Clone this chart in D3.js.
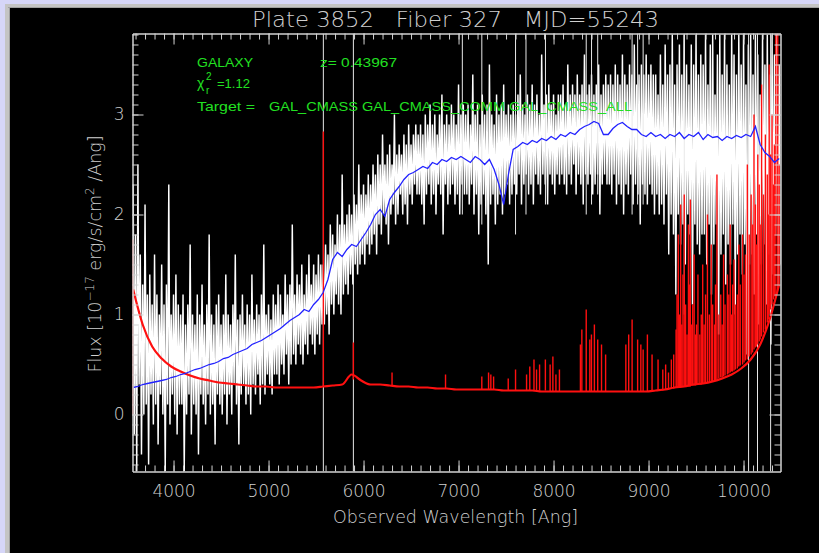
<!DOCTYPE html>
<html><head><meta charset="utf-8">
<script src="https://cdn.jsdelivr.net/npm/d3@7"></script>
<style>html,body{margin:0;padding:0;background:#000;}svg{display:block}</style>
</head><body>
<svg id="chart" width="819" height="553"></svg>
<script>
// ---------------- data ----------------
const titleText = "Plate 3852   Fiber 327   MJD=55243";
const xLabel = "Observed Wavelength [Ang]";
const xTicks = [4000, 5000, 6000, 7000, 8000, 9000, 10000];
const yTicks = [0, 1, 2, 3];
const xDomain = [3568, 10389];
const yDomain = [-0.57, 3.81];

// observed flux: upper samples on a 25 A grid starting at 3575 A
const fluxHiStart = 3575, fluxStep = 25;
const fluxHi = [
 2.3,1.8,2.5,1.6,1.3,2.1,1.2,1.4,1.1,1.6,1.2,1.0,1.5,1.1,1.3,2.3,1.0,1.2,1.4,1.1,
 1.0,1.2,0.9,1.1,1.7,1.0,0.9,1.2,1.0,1.3,0.9,1.1,1.8,1.0,0.9,1.1,1.2,0.9,1.0,1.4,
 1.0,0.9,1.1,1.6,0.95,1.0,1.2,0.9,1.1,1.0,1.4,0.95,1.1,1.0,1.2,1.7,1.0,1.1,0.95,1.2,
 1.1,1.3,1.2,1.0,1.4,1.2,1.3,1.9,1.2,1.4,1.3,1.5,1.2,1.4,1.6,1.3,1.5,1.4,1.6,1.5,
 1.5,1.7,1.6,1.9,1.8,1.7,2.0,1.9,2.4,1.9,2.0,2.1,2.0,2.2,2.1,2.5,2.2,2.3,2.2,2.4,
 2.3,2.5,2.4,2.6,2.5,2.8,2.5,2.6,2.7,2.5,3.0,2.6,2.7,2.6,2.8,2.7,2.9,2.7,2.8,2.9,
 2.8,2.9,2.8,3.0,2.9,3.1,2.9,3.0,2.8,3.0,3.2,2.9,3.0,2.9,3.1,3.0,2.9,3.3,3.0,3.1,
 3.0,3.1,2.9,3.4,3.0,3.1,2.9,3.2,3.0,3.1,3.5,3.0,2.9,3.2,3.0,3.1,3.3,3.0,3.1,3.0,
 3.1,3.0,3.2,3.4,3.1,3.0,3.2,3.1,3.3,3.1,3.2,3.0,3.6,3.1,3.2,3.3,3.1,3.2,3.0,3.2,
 3.2,3.3,3.1,3.5,3.2,3.3,3.2,3.4,3.2,3.3,3.6,3.2,3.3,3.4,3.2,3.3,3.5,3.2,3.3,3.4,
 3.3,3.4,3.3,3.5,3.4,3.3,3.6,3.4,3.3,3.5,3.4,3.7,3.3,3.4,3.5,3.4,3.6,3.4,3.5,3.4,
 3.4,3.2,3.6,3.3,3.7,3.4,3.5,3.8,3.3,3.5,3.7,3.4,3.8,3.5,3.3,3.7,3.5,3.8,3.4,3.6,
 3.5,3.8,3.3,3.7,3.8,3.2,3.6,3.8,3.4,3.8,3.5,3.3,3.8,3.6,3.4,3.8,3.5,3.8,3.3,3.7,
 3.8,3.4,3.8,3.6,3.2,3.8,3.5,3.8,3.4,3.8,3.6,3.8,3.5
];
// observed flux: lower samples on the same grid shifted by 12.5 A
const fluxLoStart = 3587.5;
const fluxLo = [
 -0.2,-0.57,0.3,-0.4,0.0,0.1,-0.5,0.2,-0.1,0.1,-0.3,0.2,0.0,-0.57,0.1,-0.1,0.2,0.0,-0.2,0.1,
 0.1,-0.57,0.0,0.2,-0.2,0.1,0.0,-0.4,0.2,0.1,-0.1,0.2,0.0,0.1,-0.3,0.2,0.1,0.0,0.2,-0.1,
 0.2,0.0,0.3,0.1,-0.3,0.2,0.3,0.1,0.2,0.0,0.3,0.2,0.4,0.1,0.3,0.2,0.4,0.3,0.2,0.4,
 0.4,0.3,0.5,0.4,0.6,0.3,0.5,0.6,0.5,0.7,0.6,0.5,0.7,0.6,0.8,0.7,0.6,0.8,0.7,0.9,
 0.9,1.0,0.8,1.1,1.0,1.2,1.1,1.0,1.2,1.3,1.2,1.4,1.3,1.5,1.4,1.5,1.6,1.5,1.7,1.6,
 1.7,1.8,1.6,1.9,1.8,2.0,1.9,1.7,2.0,2.1,1.9,2.0,2.2,2.0,2.1,1.9,2.2,2.1,2.3,2.2,
 2.2,2.1,1.9,2.2,2.3,2.1,2.2,2.0,2.3,2.2,1.8,2.3,2.1,2.2,2.3,2.1,2.2,2.0,2.3,2.2,
 2.2,2.1,2.3,2.0,2.2,1.8,2.1,2.2,2.0,1.5,2.1,2.2,1.9,2.1,2.2,2.0,2.2,2.3,2.1,2.2,
 2.3,2.2,2.4,2.1,2.3,2.4,2.2,2.3,2.1,2.4,2.3,2.2,2.4,2.3,2.1,2.4,2.3,2.2,2.4,2.3,
 2.4,2.3,2.2,2.4,2.3,2.5,2.2,2.4,2.3,2.1,2.4,2.3,2.4,2.2,2.3,2.4,2.0,2.3,2.4,2.3,
 2.3,2.2,2.4,2.1,2.3,2.2,2.0,2.3,2.2,2.4,2.1,2.3,2.2,1.9,2.3,2.2,2.1,2.3,2.2,2.0,
 2.2,2.0,2.1,1.9,2.2,1.6,2.0,1.8,1.2,2.0,1.7,1.9,1.5,2.0,1.8,1.1,1.9,1.7,1.6,1.8,
 1.8,1.5,1.9,1.2,1.7,1.9,0.8,1.6,1.8,1.3,1.7,1.5,1.9,1.0,1.6,1.8,1.4,1.7,0.6,1.5,
 1.6,1.2,1.8,0.9,1.5,1.7,1.1,1.6,0.7,1.4,1.8,1.3,1.5
];
// sky-line residual spikes in the flux: [wavelength, low, high]
const fluxSpikes = [
 [5577,-0.57,3.81],[5893,-0.57,3.81],[7040,2.0,3.81],[7245,1.9,3.81],[7600,1.8,3.81],
 [7710,2.0,3.81],[7915,2.1,3.81],[8344,2.0,3.81],[8400,2.1,3.81],[8465,2.2,3.81],
 [8827,2.0,3.81],[8885,2.1,3.81],[8943,2.1,3.81],[9376,1.0,3.81],
 [10053,-0.57,3.81],[10147,-0.57,3.81],[10285,-0.57,3.81]
];

// best-fit model, 50 A grid
const modelStart = 3575, modelStep = 50;
const model = [
 0.27,0.28,0.30,0.31,0.32,0.33,0.34,0.35,0.37,0.38,
 0.40,0.41,0.43,0.45,0.46,0.48,0.50,0.51,0.53,0.56,
 0.57,0.60,0.62,0.64,0.66,0.70,0.72,0.74,0.77,0.80,
 0.83,0.86,0.90,0.94,0.97,1.00,1.05,1.03,1.10,1.15,
 1.22,1.35,1.55,1.62,1.58,1.65,1.70,1.68,1.75,1.82,
 1.90,2.00,2.05,1.98,2.15,2.22,2.28,2.35,2.40,2.42,
 2.45,2.48,2.46,2.52,2.50,2.55,2.53,2.57,2.55,2.58,
 2.55,2.52,2.58,2.55,2.50,2.55,2.45,2.30,2.10,2.40,
 2.65,2.68,2.72,2.70,2.74,2.72,2.76,2.74,2.78,2.75,
 2.80,2.78,2.82,2.80,2.85,2.88,2.90,2.93,2.91,2.80,
 2.80,2.86,2.90,2.92,2.88,2.85,2.85,2.80,2.78,2.82,
 2.78,2.80,2.76,2.80,2.78,2.82,2.76,2.80,2.78,2.82,
 2.75,2.80,2.77,2.78,2.74,2.78,2.76,2.79,2.77,2.80,
 2.78,2.88,2.70,2.62,2.58,2.52,2.56
];

// flux error, 100 A grid
const errStart = 3575, errStep = 100;
const errorBase = [
 1.25,0.90,0.68,0.56,0.48,0.43,0.39,0.36,0.34,0.32,
 0.31,0.30,0.29,0.28,0.28,0.27,0.27,0.27,0.27,0.27,
 0.28,0.29,0.30,0.40,0.34,0.30,0.30,0.29,0.28,0.28,
 0.27,0.27,0.26,0.26,0.25,0.25,0.25,0.25,0.25,0.24,
 0.24,0.24,0.24,0.23,0.23,0.23,0.23,0.23,0.23,0.23,
 0.23,0.23,0.23,0.23,0.23,0.24,0.25,0.27,0.28,0.30,
 0.31,0.33,0.36,0.40,0.46,0.55,0.70,0.95,1.30
];
// sky-line spikes in the error: [wavelength, base, peak]
const errorSpikes = [
 [3569,0,1.75],[5577,0.28,2.83],[5893,0.35,0.72],[6300,0.29,0.42],[6863,0.26,0.40],
 [7245,0.25,0.38],[7316,0.25,0.42],[7340,0.25,0.40],[7369,0.25,0.38],[7523,0.24,0.36],
 [7600,0.24,0.45],[7716,0.24,0.40],[7750,0.24,0.48],[7794,0.24,0.55],[7821,0.24,0.45],
 [7853,0.24,0.50],[7914,0.24,0.55],[7964,0.23,0.50],[7993,0.23,0.58],[8025,0.23,0.40],
 [8062,0.23,0.45],[8283,0.23,0.70],[8298,0.23,0.85],[8344,0.23,1.05],[8382,0.23,0.75],
 [8399,0.23,0.80],[8430,0.23,0.90],[8465,0.23,0.75],[8505,0.23,0.70],[8548,0.23,0.60],
 [8761,0.23,0.70],[8791,0.23,0.80],[8827,0.23,0.95],[8885,0.23,0.75],[8919,0.23,0.70],
 [8943,0.23,0.65],[8988,0.23,0.80],[9037,0.23,0.60],[9100,0.24,0.55],
 [9150,0.24,0.45],[9180,0.25,0.50],[9210,0.25,0.42],[9240,0.26,0.55],[9265,0.26,0.60],
 [9290,0.27,0.85],[9300,0.27,1.20],[9313,0.27,1.80],[9325,0.27,1.00],[9338,0.27,2.10],
 [9350,0.28,0.90],[9362,0.28,1.40],[9376,0.28,2.20],[9390,0.28,1.10],[9405,0.28,0.80],
 [9420,0.28,1.90],[9430,0.28,1.30],[9440,0.28,2.15],[9455,0.29,0.90],[9465,0.29,1.10],
 [9480,0.29,1.60],[9495,0.29,0.80],[9505,0.30,0.90],[9520,0.30,1.40],[9540,0.30,0.80],
 [9555,0.30,1.00],[9570,0.31,1.50],[9585,0.31,0.90],[9600,0.32,1.20],[9620,0.32,2.00],
 [9640,0.32,1.00],[9660,0.33,1.70],[9675,0.33,1.10],[9695,0.34,0.90],[9705,0.34,1.30],
 [9720,0.35,2.40],[9740,0.36,1.00],[9760,0.37,1.20],[9775,0.37,0.90],[9790,0.38,1.60],
 [9805,0.39,1.10],[9830,0.40,1.40],[9845,0.41,1.20],[9860,0.42,1.90],[9875,0.43,1.00],
 [9885,0.43,1.30],[9900,0.44,1.55],[9915,0.45,1.10],[9935,0.46,1.20],[9950,0.48,1.70],
 [9965,0.49,1.30],[9990,0.50,1.80],[10005,0.52,1.40],[10020,0.54,1.60],[10040,0.55,2.50],
 [10060,0.58,1.80],[10080,0.60,2.20],[10095,0.62,1.90],[10110,0.65,3.00],[10125,0.67,2.10],
 [10135,0.68,1.70],[10150,0.70,2.60],[10165,0.73,2.30],[10175,0.75,1.90],[10190,0.78,3.30],
 [10210,0.82,2.20],[10230,0.85,2.80],[10250,0.92,2.40],[10260,0.95,2.00],[10270,1.00,3.50],
 [10285,1.05,2.60],[10300,1.10,3.00],[10315,1.15,2.30],[10325,1.18,2.70],[10340,1.20,3.81],
 [10360,1.25,3.81],[10375,1.30,2.50]
];

// annotation text
const objClass = "GALAXY";
const redshiftText = "z= 0.43967";
const chi2Text = "=1.12";
const targetLabel = "Target =";
const targetText = "GAL_CMASS GAL_CMASS_COMM GAL_CMASS_ALL";

// ---------------- drawing ----------------
const svg = d3.select("#chart");
const W = 819, H = 553;
const m = {l: 132.5, r: 780.5, t: 33.5, b: 471.5};
const axisCol = "#d2d2d2";
const textCol = "#d0d0d0";
const green = "#22e022";
const thinFont = "'DejaVu Sans', 'Liberation Sans', sans-serif";

// window frame
svg.append("rect").attr("x",0).attr("y",0).attr("width",W).attr("height",H).attr("fill","#000");
svg.append("rect").attr("x",0).attr("y",0).attr("width",W).attr("height",4).attr("fill","#d6d6f8");
svg.append("rect").attr("x",0).attr("y",0).attr("width",5).attr("height",H).attr("fill","#d6d6f8");
svg.append("rect").attr("x",5).attr("y",4).attr("width",W-5).attr("height",4).attr("fill","#c4c4c4");
svg.append("rect").attr("x",5).attr("y",4).attr("width",5).attr("height",H-4).attr("fill","#c4c4c4");
svg.append("rect").attr("x",8).attr("y",7).attr("width",W-8).attr("height",1).attr("fill","#a0a0a0");
svg.append("rect").attr("x",9).attr("y",7).attr("width",1).attr("height",H-7).attr("fill","#a0a0a0");

const x = d3.scaleLinear().domain(xDomain).range([m.l, m.r]);
const y = d3.scaleLinear().domain(yDomain).range([m.b, m.t]);

svg.append("defs").append("clipPath").attr("id","plotclip")
  .append("rect").attr("x",m.l).attr("y",m.t).attr("width",m.r-m.l).attr("height",m.b-m.t);
const plot = svg.append("g").attr("clip-path","url(#plotclip)");

// flux line: both sample sets merged in wavelength order
const fluxData = fluxHi.map((v,i)=>({w: fluxHiStart + i*fluxStep, v}))
  .concat(fluxLo.map((v,i)=>({w: fluxLoStart + i*fluxStep, v})))
  .sort((a,b)=>a.w-b.w);
plot.append("path").datum(fluxData)
  .attr("d", d3.line().x(d=>x(d.w)).y(d=>y(d.v)))
  .attr("fill","none").attr("stroke","#ffffff").attr("stroke-width",1.45)
  .attr("stroke-linejoin","bevel");

// flux spikes
plot.selectAll("line.fs").data(fluxSpikes).enter().append("line")
  .attr("x1",d=>x(d[0])).attr("x2",d=>x(d[0]))
  .attr("y1",d=>y(d[1])).attr("y2",d=>y(d[2]))
  .attr("stroke","#e8e8e8").attr("stroke-width",1);

// error baseline
const errData = errorBase.map((v,i)=>({w: errStart + i*errStep, v}));
plot.append("path").datum(errData)
  .attr("d", d3.line().x(d=>x(d.w)).y(d=>y(d.v)).curve(d3.curveMonotoneX))
  .attr("fill","none").attr("stroke","#ff1010").attr("stroke-width",2.2);
// error spikes
plot.selectAll("line.es").data(errorSpikes).enter().append("line")
  .attr("x1",d=>x(d[0])).attr("x2",d=>x(d[0]))
  .attr("y1",d=>y(d[1])).attr("y2",d=>y(d[2]))
  .attr("stroke","#ff1010").attr("stroke-width",1.4);

// model
const modelData = model.map((v,i)=>({w: modelStart + i*modelStep, v}));
plot.append("path").datum(modelData)
  .attr("d", d3.line().x(d=>x(d.w)).y(d=>y(d.v)))
  .attr("fill","none").attr("stroke","#2222ff").attr("stroke-width",1.3);

// axes
const xMinor = d3.range(3600, 10390, 100);
const yMinor = d3.range(-0.5, 3.81, 0.1).map(v=>+v.toFixed(2));
function styleAxis(g){
  g.selectAll("path.domain").attr("stroke",axisCol).attr("stroke-width",1);
  g.selectAll(".tick line").attr("stroke",axisCol).attr("stroke-width",1);
  g.selectAll(".tick text").attr("fill",textCol).attr("font-family",thinFont)
    .attr("font-size",17).attr("font-weight",200);
}
function addAxis(gen, tr){
  const g = svg.append("g").attr("transform",tr).call(gen);
  styleAxis(g); return g;
}
addAxis(d3.axisBottom(x).tickValues(xMinor).tickSize(-6).tickSizeOuter(0).tickFormat(""), `translate(0,${m.b})`);
addAxis(d3.axisBottom(x).tickValues(xTicks).tickSize(-11).tickSizeOuter(0).tickPadding(13).tickFormat(d3.format("d")), `translate(0,${m.b})`);
addAxis(d3.axisTop(x).tickValues(xMinor).tickSize(-6).tickSizeOuter(0).tickFormat(""), `translate(0,${m.t})`);
addAxis(d3.axisTop(x).tickValues(xTicks).tickSize(-11).tickSizeOuter(0).tickFormat(""), `translate(0,${m.t})`);
addAxis(d3.axisLeft(y).tickValues(yMinor).tickSize(-6).tickSizeOuter(0).tickFormat(""), `translate(${m.l},0)`);
addAxis(d3.axisLeft(y).tickValues(yTicks).tickSize(-11).tickSizeOuter(0).tickPadding(8).tickFormat(d3.format("d")), `translate(${m.l},0)`);
addAxis(d3.axisRight(y).tickValues(yMinor).tickSize(-6).tickSizeOuter(0).tickFormat(""), `translate(${m.r},0)`);
addAxis(d3.axisRight(y).tickValues(yTicks).tickSize(-11).tickSizeOuter(0).tickFormat(""), `translate(${m.r},0)`);

// title
svg.append("text").attr("x",455.5).attr("y",27).attr("text-anchor","middle")
  .attr("fill",textCol).attr("font-family",thinFont).attr("font-weight",200).attr("font-size",22)
  .attr("textLength",407).attr("lengthAdjust","spacingAndGlyphs")
  .style("white-space","pre").text(titleText);

// x label
svg.append("text").attr("x",455.5).attr("y",523).attr("text-anchor","middle")
  .attr("fill",textCol).attr("font-family",thinFont).attr("font-weight",200).attr("font-size",17.5)
  .attr("textLength",245).attr("lengthAdjust","spacingAndGlyphs")
  .text(xLabel);

// y label
const yl = svg.append("text").attr("transform","translate(101,254) rotate(-90)")
  .attr("text-anchor","middle").attr("fill",textCol).attr("font-family",thinFont)
  .attr("font-weight",200).attr("font-size",17.5);
yl.append("tspan").text("Flux [10");
yl.append("tspan").attr("dy",-7).attr("font-size",12).text("\u221217");
yl.append("tspan").attr("dy",7).text(" erg/s/cm");
yl.append("tspan").attr("dy",-7).attr("font-size",12).text("2");
yl.append("tspan").attr("dy",7).text(" /Ang]");

// annotations
const ann = svg.append("g").attr("fill",green).attr("font-family","'Liberation Sans', Arial, sans-serif").attr("font-size",13);
ann.append("text").attr("x",197).attr("y",66.5).attr("textLength",56).attr("lengthAdjust","spacingAndGlyphs").text(objClass);
ann.append("text").attr("x",320).attr("y",66.5).attr("textLength",77).attr("lengthAdjust","spacingAndGlyphs").text(redshiftText);
ann.append("text").attr("x",197).attr("y",88).attr("font-size",14).text("\u03c7");
ann.append("text").attr("x",206).attr("y",80).attr("font-size",10).text("2");
ann.append("text").attr("x",206).attr("y",94).attr("font-size",10).text("r");
ann.append("text").attr("x",217).attr("y",88).text(chi2Text);
ann.append("text").attr("x",197).attr("y",110.5).attr("textLength",58).attr("lengthAdjust","spacingAndGlyphs").text(targetLabel);
ann.append("text").attr("x",269).attr("y",110.5).attr("textLength",363).attr("lengthAdjust","spacingAndGlyphs").text(targetText);
</script>
</body></html>
